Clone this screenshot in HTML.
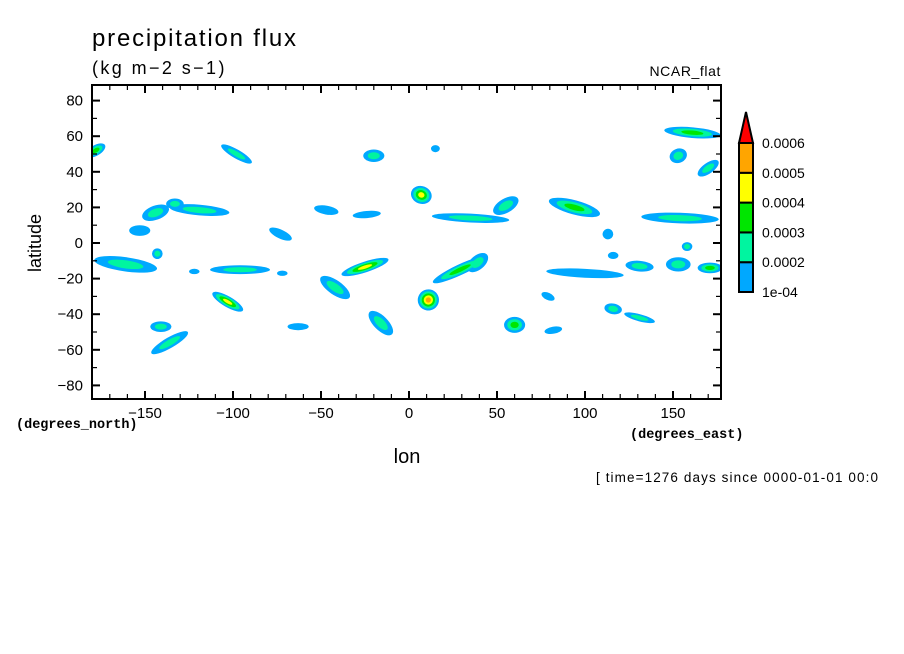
<!DOCTYPE html>
<html><head><meta charset="utf-8"><style>
body{margin:0;background:#fff;}
svg{display:block;font-family:"Liberation Sans",sans-serif;}
</style></head><body>
<svg id="chart" width="904" height="654" viewBox="0 0 904 654" xmlns="http://www.w3.org/2000/svg">
<rect width="904" height="654" fill="#fff"/>
<text x="92" y="46" font-size="24" letter-spacing="1.8">precipitation flux</text>
<text x="92" y="74" font-size="18" letter-spacing="2.4">(kg m−2 s−1)</text>
<text x="721" y="76" font-size="14" text-anchor="end" letter-spacing="0.6">NCAR_flat</text>
<g id="blobs"></g>
<g id="axes"></g>
<text transform="translate(41,243) rotate(-90)" font-size="18" text-anchor="middle">latitude</text>
<text x="407" y="463" font-size="20" text-anchor="middle">lon</text>
<text x="16" y="428" font-size="13.5" font-weight="bold" font-family="Liberation Mono, monospace">(degrees_north)</text>
<text x="630" y="438" font-size="13.5" font-weight="bold" font-family="Liberation Mono, monospace">(degrees_east)</text>
<text x="596" y="482" font-size="13.5" letter-spacing="1.1">[ time=1276 days since 0000-01-01 00:0</text>
<g id="cbar"></g>
</svg>
<script>
const xTicks=[-150,-100,-50,0,50,100,150];
const yTicks=[-80,-60,-40,-20,0,20,40,60,80];
const levelColors=['#00a8ff','#00f5a0','#00e600','#ffff00','#ffa500','#ff0000'];
const cbarLabels=['1e-04','0.0002','0.0003','0.0004','0.0005','0.0006'];
// blobs: lon, lat, rx(deg), ry(deg), angle(deg), level
const blobLon=[-178,-98,-20,15,-144,-153,-119,-133,-73,-47,-24,7,35,55,94,113,154,161,153,170,158,-161,-143,-96,-122,-72,-25,-42,-103,-141,-136,-63,-16,11,29,39,60,82,79,100,116,131,131,153,171,116];
const blobLat=[52,50,49,53,17,7,18.5,22,5,18.5,16,27,14,21,20,5,14,62,49,42,-2,-12,-6,-15,-16,-17,-13.5,-25,-33,-47,-56,-47,-45,-32,-15,-11,-46,-49,-30,-17,-37,-42,-13,-12,-14,-7];
const blobRx=[3,10,6,2.5,8,6,17,5,7,7,8,6,22,8,15,3,22,16,5,7,3,18,3,17,3,3,14,10,10,6,12,6,9,6,17,7,6,2,4,22,5,9,8,7,7,3];
const blobRy=[6,2.5,3.5,2,4,3,3,3,2.5,2.5,2,5,2.5,4,4,3,3,3,4,3,2.5,4,3,2.5,1.5,1.5,3,4,3,3,3,2,4,6,3,4,4.5,5,2,2.5,3,2,3,4,3,2];
const blobAng=[60,30,0,0,-20,0,5,0,25,10,-5,20,3,-30,15,70,2,5,-20,-35,0,8,0,0,0,0,-18,35,30,0,-30,0,45,55,-25,-40,0,80,25,3,10,15,5,0,0,0];
const blobLvl=[3,2,2,1,2,1,2,2,1,1,1,4,2,2,3,1,2,3,2,2,2,2,2,2,1,1,4,2,4,2,2,1,2,5,3,2,3,1,1,1,2,2,2,2,3,1];

const X0=92,X1=721,Y0=85,Y1=399;
const xs=v=>409+v*1.76;
const ys=v=>243-v*1.78;
const NS='http://www.w3.org/2000/svg';
function mk(t,a,p){const e=document.createElementNS(NS,t);for(const k in a)e.setAttribute(k,a[k]);p.appendChild(e);return e;}
const svg=document.getElementById('chart');
const defs=mk('defs',{},svg);
const cp=mk('clipPath',{id:'clip'},defs);
mk('rect',{x:X0,y:Y0,width:X1-X0,height:Y1-Y0},cp);
const bg=document.getElementById('blobs');
bg.setAttribute('clip-path','url(#clip)');
const maxL=Math.max(...blobLvl);
for(let L=1;L<=maxL;L++){
 for(let i=0;i<blobLon.length;i++){
  if(blobLvl[i]<L)continue;
  const f=1-(L-1)/(blobLvl[i]+0.3);
  const e=mk('ellipse',{cx:xs(blobLon[i]),cy:ys(blobLat[i]),rx:blobRx[i]*1.76*f,ry:blobRy[i]*1.78*f,fill:levelColors[L-1],transform:`rotate(${blobAng[i]} ${xs(blobLon[i])} ${ys(blobLat[i])})`},bg);
  
  
 }
}
const ax=document.getElementById('axes');
const fr=mk('rect',{x:X0,y:Y0,width:X1-X0,height:Y1-Y0,fill:'none',stroke:'#000','stroke-width':2},ax);


for(let v=-170;v<=170;v+=10){
 const major=xTicks.includes(v);const l=major?8:5;const x=xs(v);
 if(x<X0||x>X1)continue;
 mk('line',{x1:x,x2:x,y1:Y1,y2:Y1-l,stroke:'#000','stroke-width':major?2:1.2},ax);
 mk('line',{x1:x,x2:x,y1:Y0,y2:Y0+l,stroke:'#000','stroke-width':major?2:1.2},ax);
}
for(let v=-80;v<=80;v+=10){
 const major=yTicks.includes(v);const l=major?8:5;const y=ys(v);
 mk('line',{x1:X0,x2:X0+l,y1:y,y2:y,stroke:'#000','stroke-width':major?2:1.2},ax);
 mk('line',{x1:X1,x2:X1-l,y1:y,y2:y,stroke:'#000','stroke-width':major?2:1.2},ax);
}
xTicks.forEach(v=>{const t=mk('text',{x:xs(v),y:418,'font-size':15,'text-anchor':'middle'},ax);t.textContent=String(v).replace('-','−');
 });
yTicks.forEach(v=>{const t=mk('text',{x:83,y:ys(v)+5,'font-size':15,'text-anchor':'end'},ax);t.textContent=String(v).replace('-','−');
 });
const cb=document.getElementById('cbar');
const bx=739,bw=14,bTop=143,bh=29.8;
for(let i=0;i<5;i++){
 const r=mk('rect',{x:bx,y:bTop+(4-i)*bh,width:bw,height:bh,fill:levelColors[i],stroke:'#000','stroke-width':2},cb);
 
}
const tri=mk('polygon',{points:`${bx},${bTop} ${bx+bw},${bTop} ${bx+bw/2},${112}`,fill:levelColors[5],stroke:'#000','stroke-width':2},cb);

cbarLabels.forEach((s,i)=>{const t=mk('text',{x:762,y:bTop+(5-i)*bh+5,'font-size':14},cb);t.textContent=s;
 });
</script>
</body></html>
